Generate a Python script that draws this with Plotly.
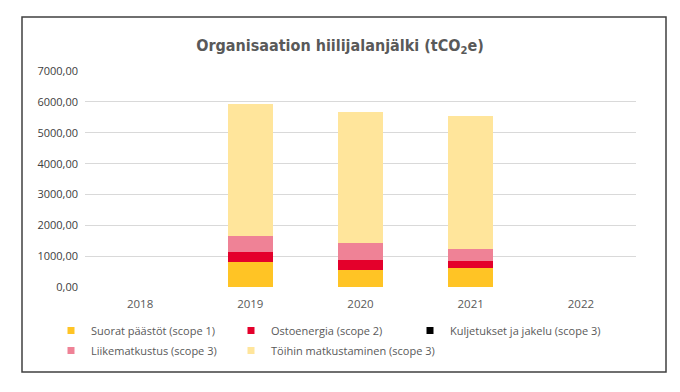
import plotly.graph_objects as go

years = ["2018", "2019", "2020", "2021", "2022"]
suorat = [None, 800, 540, 620, None]
ostoenergia = [None, 320, 320, 215, None]
kuljetukset = [None, 0, 0, 0, None]
liikematkustus = [None, 545, 555, 390, None]
toihin = [None, 4260, 4270, 4325, None]

series = [
    ("Suorat päästöt (scope 1)", suorat, "#FFC425"),
    ("Ostoenergia (scope 2)", ostoenergia, "#E4002B"),
    ("Kuljetukset ja jakelu (scope 3)", kuljetukset, "#000000"),
    ("Liikematkustus (scope 3)", liikematkustus, "#EF8296"),
    ("Töihin matkustaminen (scope 3)", toihin, "#FFE59B"),
]

FONT = "Open Sans, sans-serif"
GREY = "#595959"

# legend slot (column, row) for each series, as in the reference layout
legend_slots = [(0, 0), (1, 0), (2, 0), (0, 1), (1, 1)]
col_x = [51, 231, 410]
row_y = [316, 336]

fig = go.Figure()
for name, vals, col in series:
    fig.add_trace(go.Bar(x=years, y=vals, name=name, marker_color=col,
                         marker_line_width=0, width=0.41, showlegend=False,
                         legendgroup=name))

legend_layouts = {}
for i, ((name, vals, col), (c, r)) in enumerate(zip(series, legend_slots)):
    lname = "legend" if i == 0 else f"legend{i + 1}"
    fig.add_trace(go.Scatter(x=[None], y=[None], mode="markers", name=name,
                             legendgroup=name, legend=lname,
                             marker=dict(symbol="square", size=7, color=col)))
    legend_layouts[lname] = dict(
        orientation="h", xref="container", yref="container",
        x=col_x[c] / 680, xanchor="left", y=1 - row_y[r] / 392, yanchor="top",
        font=dict(size=11, color=GREY), itemwidth=30,
        bgcolor="rgba(0,0,0,0)")

fig.update_layout(
    barmode="stack",
    width=680, height=392,
    margin=dict(l=85, r=44, t=71, b=105, autoexpand=False),
    paper_bgcolor="white", plot_bgcolor="white",
    separators=", ",
    font=dict(family=FONT, color=GREY, size=11),
    title=dict(text="<b>Organisaation hiilijalanjälki (tCO<sub>2</sub>e)</b>",
               x=0.5, xanchor="center", yref="container", y=1 - 45 / 392,
               yanchor="middle",
               font=dict(size=16, color=GREY, family="DejaVu Sans Condensed, sans-serif")),
    xaxis=dict(type="category", showgrid=False, showline=False, ticks="",
               automargin=False, ticklabelstandoff=8,
               tickfont=dict(size=11.5, color=GREY)),
    yaxis=dict(range=[0, 7005], dtick=1000, tickformat=".2f",
               gridcolor="#D9D9D9", gridwidth=1, zeroline=False, automargin=False,
               showline=False, ticks="", tickfont=dict(size=11, color="#404040"),
               ticklabelstandoff=6),
    showlegend=True,
    shapes=[dict(type="rect", xref="paper", yref="paper",
                 x0=(22 - 85) / 551, x1=(666 - 85) / 551,
                 y0=(287 - 372) / 216, y1=(287 - 17) / 216,
                 line=dict(color="#404040", width=1.5), fillcolor="rgba(0,0,0,0)",
                 layer="below")],
    **legend_layouts,
)

fig.write_html("out.html", config={"displayModeBar": False},
               post_script="document.body.style.margin='0';document.body.style.overflow='hidden';")
